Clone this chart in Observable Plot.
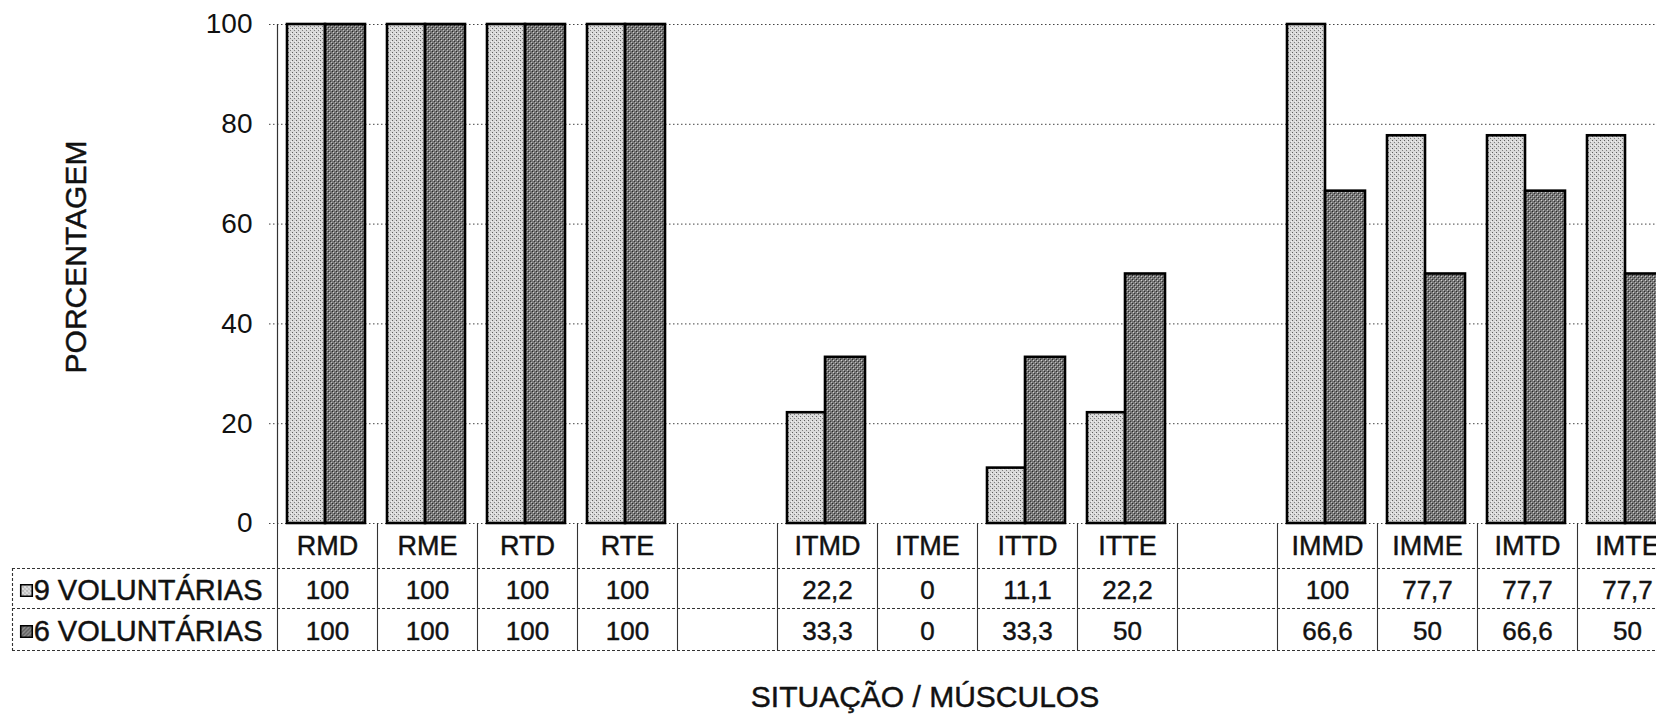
<!DOCTYPE html>
<html>
<head>
<meta charset="utf-8">
<script src="https://cdn.jsdelivr.net/npm/d3@7"></script>
<script src="https://cdn.jsdelivr.net/npm/@observablehq/plot@0.6"></script>
<style>
  html, body { margin: 0; padding: 0; background: #fff; overflow: hidden; }
  #chart svg { display: block; overflow: hidden; max-width: none; }
</style>
</head>
<body>
<svg width="0" height="0" style="position:absolute">
  <defs>
    <pattern id="lightFill" width="4" height="4" patternUnits="userSpaceOnUse">
      <rect width="4" height="4" fill="#d9d9d9"/>
      <rect x="0" y="0" width="1" height="1" fill="#5e5e5e"/>
      <rect x="2" y="2" width="1" height="1" fill="#7e7e7e"/>
      <rect x="3" y="1" width="1" height="1" fill="#f2f2f2"/>
    </pattern>
    <pattern id="darkFill" width="4" height="4" patternUnits="userSpaceOnUse">
      <rect width="4" height="4" fill="#767676"/>
      <rect x="1" y="0" width="1" height="1" fill="#cfcfcf"/>
      <rect x="3" y="2" width="1" height="1" fill="#bdbdbd"/>
      <rect x="0" y="3" width="1" height="1" fill="#2a2a2a"/>
      <rect x="2" y="1" width="1" height="1" fill="#333"/>
    </pattern>
  </defs>
</svg>
<div id="chart"></div>
<script>
// ---- data ----
const categories = ["RMD", "RME", "RTD", "RTE", "", "ITMD", "ITME", "ITTD", "ITTE", "", "IMMD", "IMME", "IMTD", "IMTE"];
const nineVals = [100, 100, 100, 100, null, 22.2, 0, 11.1, 22.2, null, 100, 77.7, 77.7, 77.7];
const sixVals  = [100, 100, 100, 100, null, 33.3, 0, 33.3, 50, null, 66.6, 50, 66.6, 50];
const seriesLabels = ["9 VOLUNTÁRIAS", "6 VOLUNTÁRIAS"];
const yTicks = [0, 20, 40, 60, 80, 100];
const yTitle = "PORCENTAGEM";
const xTitle = "SITUAÇÃO / MÚSCULOS";

const fmt = v => (v == null ? "" : String(v).replace(".", ","));
const rows = categories.map((c, i) => ({key: i, label: c, nine: nineVals[i], six: sixVals[i]}));
const keys = rows.map(d => d.key);

const lineColor = "#333";
const textColor = "#111";
const txt = {fill: textColor, stroke: textColor, strokeWidth: 0.45, lineAnchor: "middle"};

const chart = Plot.plot({
  width: 1656,
  height: 717,
  marginTop: 24,
  marginBottom: 194,
  marginLeft: 277,
  marginRight: 0,
  style: {fontFamily: "'Liberation Sans', Arial, sans-serif", fontSize: "26px", color: textColor, background: "#fff", overflow: "hidden"},
  x: {type: "band", domain: keys, range: [277, 1677], padding: 0, axis: null},
  y: {domain: [0, 100], axis: null},
  marks: [
    // dotted gridlines (including baseline)
    Plot.gridY(yTicks, {stroke: "#444", strokeOpacity: 1, strokeWidth: 1, strokeDasharray: "1.5,2.5", insetLeft: -8}),
    // left axis line
    Plot.ruleX([keys[0]], {x: d => d, dx: -50, stroke: lineColor, strokeWidth: 1.2}),
    // y tick labels
    Plot.axisY(yTicks, {tickSize: 0, tickPadding: 25, fontSize: 28, fill: textColor, stroke: textColor, strokeWidth: 0.45}),
    // bars
    Plot.barY(rows.filter(d => d.nine > 0), {x: "key", y: "nine", fill: "url(#lightFill)", stroke: "#000", strokeWidth: 2.6, insetLeft: 10, insetRight: 52}),
    Plot.barY(rows.filter(d => d.six > 0), {x: "key", y: "six", fill: "url(#darkFill)", stroke: "#000", strokeWidth: 2.6, insetLeft: 48, insetRight: 12}),
    // table: vertical cell separators
    Plot.ruleX(keys, {x: d => d, dx: -50, insetTop: 499, insetBottom: -127, stroke: lineColor, strokeWidth: 1.1}),
    // table: left border of row-label block
    Plot.ruleX([keys[0]], {x: d => d, dx: -315, insetTop: 544, insetBottom: -127, stroke: lineColor, strokeWidth: 1.1, strokeDasharray: "3,2"}),
    // table: horizontal lines
    Plot.ruleY([0], {dy: 45, insetLeft: -265, stroke: lineColor, strokeWidth: 1.1, strokeDasharray: "3,2"}),
    Plot.ruleY([0], {dy: 85, insetLeft: -265, stroke: lineColor, strokeWidth: 1.1, strokeDasharray: "3,2"}),
    Plot.ruleY([0], {dy: 127, insetLeft: -265, stroke: lineColor, strokeWidth: 1.1, strokeDasharray: "3,2"}),
    // table: header row (category names)
    Plot.text(rows, {x: "key", text: "label", frameAnchor: "bottom", dy: 23, fontSize: 27, ...txt}),
    // table: value rows
    Plot.text(rows, {x: "key", text: d => fmt(d.nine), frameAnchor: "bottom", dy: 67, fontSize: 26, ...txt}),
    Plot.text(rows, {x: "key", text: d => fmt(d.six), frameAnchor: "bottom", dy: 108, fontSize: 26, ...txt}),
    // table: row labels with legend keys
    Plot.text([seriesLabels[0]], {frameAnchor: "bottom-left", textAnchor: "end", dx: -15, dy: 67, fontSize: 29, ...txt}),
    Plot.text([seriesLabels[1]], {frameAnchor: "bottom-left", textAnchor: "end", dx: -15, dy: 108, fontSize: 29, ...txt}),
    Plot.dot([seriesLabels[0]], {frameAnchor: "bottom-left", dx: -251, dy: 67, symbol: "square", r: 6.5, fill: "url(#lightFill)", stroke: "#000", strokeWidth: 1.6}),
    Plot.dot([seriesLabels[1]], {frameAnchor: "bottom-left", dx: -251, dy: 108, symbol: "square", r: 6.5, fill: "url(#darkFill)", stroke: "#000", strokeWidth: 1.6}),
    // axis titles
    Plot.text([yTitle], {frameAnchor: "left", textAnchor: "middle", rotate: -90, dx: -201, dy: -17, fontSize: 30, ...txt}),
    Plot.text([xTitle], {frameAnchor: "bottom", textAnchor: "middle", dx: -42, dy: 174, fontSize: 30, ...txt})
  ]
});
document.getElementById("chart").append(chart);
</script>
</body>
</html>
